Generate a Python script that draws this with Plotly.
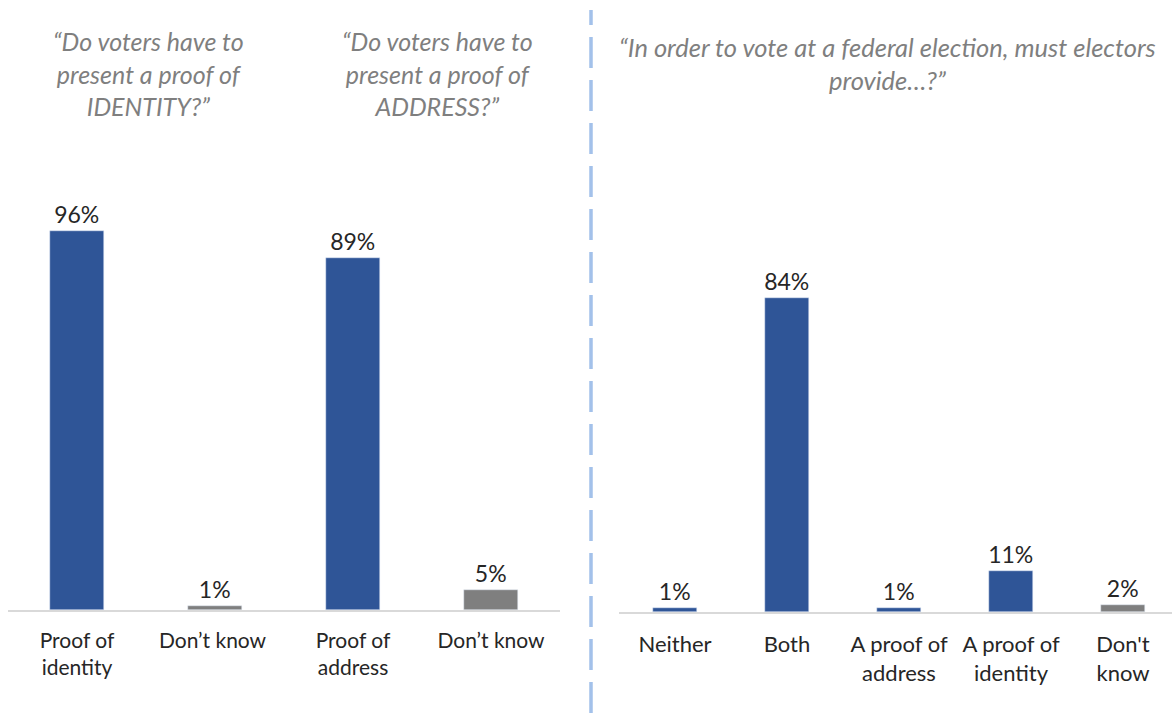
import plotly.graph_objects as go

# Left panel data
left_cats = ["Proof of<br>identity", "Don’t know ", "Proof of<br>address", "Don’t know"]
left_vals = [96, 1, 89, 5]
left_colors = ["#2F5597", "#7F7F7F", "#2F5597", "#7F7F7F"]

# Right panel data
right_cats = ["Neither", "Both", "A proof of<br>address", "A proof of<br>identity", "Don't<br>know"]
right_vals = [1, 84, 1, 11, 2]
right_colors = ["#2F5597", "#2F5597", "#2F5597", "#2F5597", "#7F7F7F"]

titles = [
    ("“Do voters have to<br>present a proof of<br>IDENTITY?”", 148),
    ("“Do voters have to<br>present a proof of<br>ADDRESS?”", 437),
]
right_title = "“In order to vote at a federal election, must electors<br>provide…?”"

W, H = 1172, 713
FONT = "Lato, 'Noto Sans', sans-serif"

fig = go.Figure()
fig.add_trace(go.Bar(
    x=left_cats, y=left_vals, marker_color=left_colors, width=0.39,
    texttemplate="%{y}%", textposition="outside", cliponaxis=False,
    constraintext="none",
    textfont=dict(size=23, color="#262626", family=FONT),
    xaxis="x", yaxis="y", showlegend=False,
))
fig.add_trace(go.Bar(
    x=right_cats, y=right_vals, marker_color=right_colors, width=0.393,
    texttemplate="%{y}%", textposition="outside", cliponaxis=False,
    constraintext="none",
    textfont=dict(size=23, color="#262626", family=FONT),
    xaxis="x2", yaxis="y2", showlegend=False,
))

def xaxis_style(size, standoff):
    return dict(showgrid=False, showline=True, linecolor="#D9D9D9", linewidth=1.5,
                ticks="", tickfont=dict(size=size, color="#262626", family=FONT),
                ticklabelstandoff=standoff, fixedrange=True)

right_w = W - 619
fig.update_layout(
    width=W, height=H,
    margin=dict(l=0, r=0, t=0, b=0),
    plot_bgcolor="white", paper_bgcolor="white",
    bargap=0,
    xaxis=dict(domain=[8 / W, 560 / W], anchor="y", **xaxis_style(21, 11)),
    yaxis=dict(domain=[103 / H, 498 / H], range=[0, 100], visible=False, anchor="x"),
    xaxis2=dict(domain=[619 / W, 1.0], anchor="y2", range=[-0.5, -0.5 + right_w / 112],
                **xaxis_style(22, 12)),
    yaxis2=dict(domain=[101 / H, 475 / H], range=[0, 100], visible=False, anchor="x2"),
)

for text, xc in titles:
    fig.add_annotation(x=xc / W, y=1 - 24 / H, xref="paper", yref="paper",
                       text=text, showarrow=False, xanchor="center", yanchor="top",
                       font=dict(size=25, color="#7F7F7F", family=FONT, style="italic"))
fig.add_annotation(x=887 / W, y=1 - 30 / H, xref="paper", yref="paper",
                   text=right_title, showarrow=False, xanchor="center", yanchor="top",
                   font=dict(size=25.5, color="#7F7F7F", family=FONT, style="italic"))

fig.add_shape(type="line", xref="paper", yref="paper",
              x0=591 / W, x1=591 / W, y0=0, y1=1 - 10 / H,
              line=dict(color="#A3C1EA", width=3.5, dash="31px,12px"))

fig.write_html("out.html")
